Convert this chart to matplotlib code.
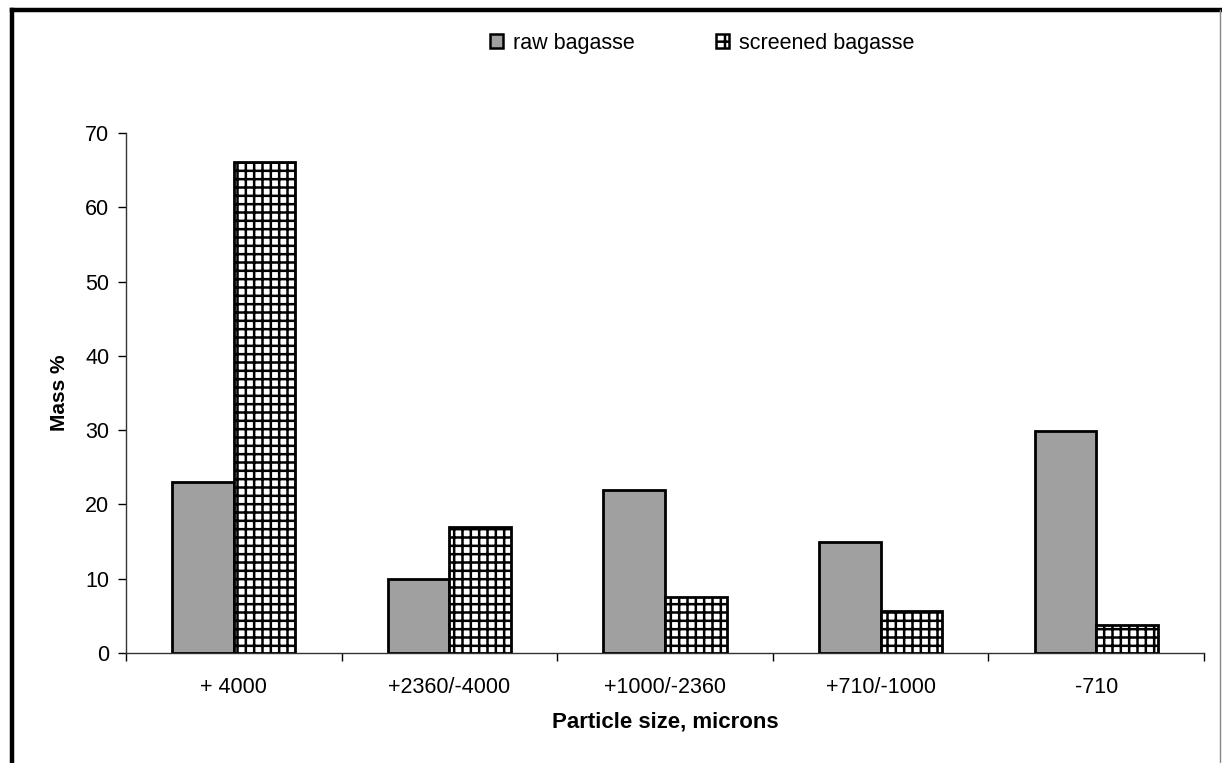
import matplotlib
matplotlib.use("Agg")
import matplotlib.pyplot as plt
from matplotlib.patches import Patch
from matplotlib.lines import Line2D
import numpy as np

plt.rcParams['font.family'] = ['Liberation Sans', 'DejaVu Sans']
plt.rcParams['hatch.linewidth'] = 1.8

categories = ["+ 4000", "+2360/-4000", "+1000/-2360", "+710/-1000", "-710"]
raw_bagasse = [23.0, 10.0, 22.0, 15.0, 29.9]
screened_bagasse = [66.1, 17.0, 7.6, 5.6, 3.8]
series_names = ["raw bagasse", "screened bagasse"]
y_ticks = [0, 10, 20, 30, 40, 50, 60, 70]

FS = 15.5

W, H = 1222, 763
fig = plt.figure(figsize=(W / 100, H / 100), dpi=100)
fig.patch.set_facecolor("white")
ax = fig.add_axes([126 / W, 1 - 653 / H, (1204 - 126) / W, (653 - 133) / H])

x = np.arange(len(categories))
bw = 1 / 3.5
raw_color = "#a0a0a0"
ax.bar(x - bw / 2, raw_bagasse, width=bw, facecolor=raw_color,
       edgecolor="black", linewidth=2.0, zorder=3)
ax.bar(x + bw / 2, screened_bagasse, width=bw, facecolor="white",
       edgecolor="black", linewidth=2.0, hatch="++", zorder=3)

ax.set_xlim(-0.5, len(categories) - 0.5)
ax.set_ylim(0, 70)
ax.set_yticks(y_ticks)
ax.set_yticklabels([str(v) for v in y_ticks], fontsize=FS)
ax.set_xticks(x)
ax.set_xticklabels(categories, fontsize=FS)
ax.tick_params(axis="x", which="major", length=0, pad=17)
# category separators, including the left end below the origin
ax.set_xticks(np.arange(-0.5, len(categories), 1.0), minor=True)
ax.tick_params(axis="x", which="minor", length=6, width=1, direction="out")
ax.tick_params(axis="y", length=6, width=1, direction="out", pad=6)

for side in ("top", "right"):
    ax.spines[side].set_visible(False)
for side in ("left", "bottom"):
    ax.spines[side].set_linewidth(1.0)
    ax.spines[side].set_color("#333333")

ax.set_ylabel("Mass %", fontsize=15, fontweight="bold", labelpad=12)
ax.set_xlabel("Particle size, microns", fontsize=16, fontweight="bold", labelpad=10)

handles = [
    Patch(facecolor=raw_color, edgecolor="black", linewidth=1.8),
    Patch(facecolor="white", edgecolor="black", linewidth=1.8, hatch="+"),
]
fig.legend(handles, series_names, loc="center", bbox_to_anchor=(702 / W, 1 - 43 / H),
           ncol=2, frameon=False, fontsize=FS, handlelength=0.6, handleheight=0.6,
           handletextpad=0.45, columnspacing=3.8)

# outer frame around the chart
fig.add_artist(Line2D([12 / W, 12 / W], [0, 1 - 10 / H], transform=fig.transFigure,
                      color="black", linewidth=3.2))
fig.add_artist(Line2D([12 / W, 1220 / W], [1 - 10 / H, 1 - 10 / H], transform=fig.transFigure,
                      color="black", linewidth=3.2))
fig.add_artist(Line2D([1220 / W, 1220 / W], [0, 1 - 10 / H], transform=fig.transFigure,
                      color="#888888", linewidth=1.0))

fig.savefig("out.png", dpi=100, facecolor="white")
